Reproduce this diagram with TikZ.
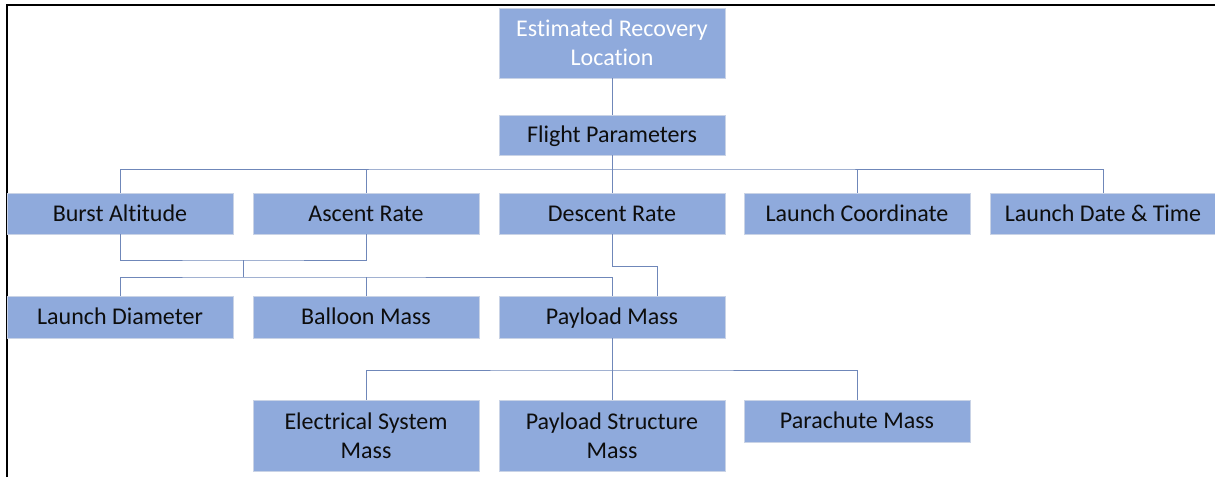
\documentclass[tikz,border=0pt]{standalone}
\usepackage{fontspec}
\setmainfont{Carlito}[Ligatures=NoCommon]
\definecolor{boxfill}{HTML}{8FAADC}
\definecolor{boxedge}{HTML}{C9D3E6}
\definecolor{linkcol}{HTML}{6F87B9}
\begin{document}
\begin{tikzpicture}[x=1pt,y=-1pt,
  basebox/.style={rectangle, fill=boxfill, draw=boxedge, line width=0.6pt,
    minimum width=226pt, inner sep=0pt, align=center,
    font=\fontsize{24}{29}\selectfont, text={black!95}},
  box/.style={basebox, minimum height=41pt, text height=16pt, text depth=1pt},
  tall/.style={basebox, minimum height=71pt},
  link/.style={draw=linkcol, line width=1pt}]
\useasboundingbox (0,0) rectangle (1215,477);

% page frame (left and top edges)
\draw[line width=2pt, black] (6.5,477) -- (6.5,5) -- (1215,5);

% top levels
\node[tall, minimum height=70pt, text=white] (erl) at (612,43) {Estimated Recovery\\Location};
\node[box, minimum height=40pt] (fp) at (612,135) {Flight Parameters};

% second level
\node[box] (ba)  at (120,213.5)  {Burst Altitude};
\node[box] (ar)  at (366,213.5)  {Ascent Rate};
\node[box] (dr)  at (612,213.5)  {Descent Rate};
\node[box] (lc)  at (857,213.5)  {Launch Coordinate};
\node[box] (ldt) at (1103,213.5) {Launch Date \& Time};

% third level
\node[box, minimum height=42pt] (ld) at (120,317) {Launch Diameter};
\node[box, minimum height=42pt] (bm) at (366,317) {Balloon Mass};
\node[box, minimum height=42pt] (pm) at (612,317) {Payload Mass};

% fourth level
\node[tall] (esm) at (366,435.5) {Electrical System\\Mass};
\node[tall] (psm) at (612,435.5) {Payload Structure\\Mass};
\node[box, minimum height=42pt] (pcm) at (857,421) {Parachute Mass};

% junction points of the connector buses
\coordinate (b1) at (612,169);
\coordinate (b2) at (243,260);
\coordinate (b3) at (243,277);
\coordinate (b4) at (657,266);
\coordinate (b5) at (612,370);

% connectors
\draw[link] (erl.south) -- (fp.north);
\draw[link] (fp.south) -- (dr.north);
\draw[link] (ba.north) |- (b1) -| (ldt.north);
\draw[link] (ar.north) -- (ar.north |- b1);
\draw[link] (lc.north) -- (lc.north |- b1);

\draw[link] (ba.south) |- (b2) -| (ar.south);
\draw[link] (b2) -- (b3);
\draw[link] (ld.north) |- (b3) -| (pm.north);
\draw[link] (bm.north) -- (bm.north |- b3);

\draw[link] (dr.south) |- (b4) -- (b4 |- pm.north);

\draw[link] (pm.south) -- (psm.north);
\draw[link] (esm.north) |- (b5) -| (pcm.north);
\end{tikzpicture}
\end{document}
